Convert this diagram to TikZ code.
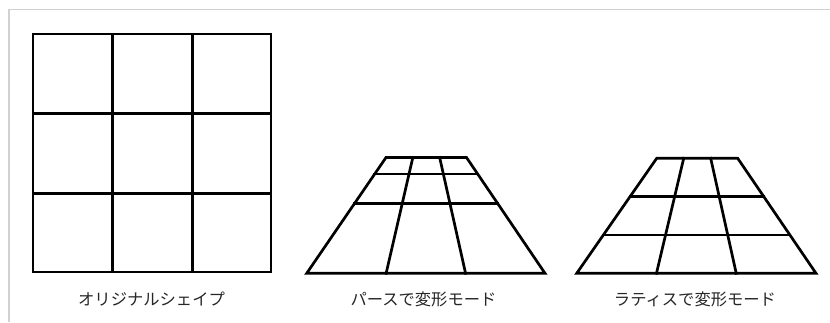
\documentclass[tikz,border=0pt]{standalone}
\usepackage{fontspec}
\usetikzlibrary{calc}
\newfontfamily\jpfont{Noto Sans CJK JP}
\tikzset{
  gridline/.style={line width=2.7pt, line cap=rect, line join=miter, black},
  frameline/.style={line width=1.4pt, color=black!18},
  caption/.style={font=\jpfont\fontsize{16.3}{19}\selectfont, text=black!85, inner sep=0pt, anchor=center}
}
\begin{document}
\begin{tikzpicture}[x=1pt,y=-1pt]
\useasboundingbox (0,0) rectangle (830,322);
% frame
\draw[frameline] (9,322) -- (9,9.3) -- (830,9.3);

% original square
\coordinate (s1) at (33,34);
\coordinate (s2) at (271,272);
\draw[gridline] (s1) rectangle (s2);
\draw[gridline] (112.3,34) -- (112.3,272);
\draw[gridline] (192.3,34) -- (192.3,272);
\draw[gridline] (33,113.3) -- (271,113.3);
\draw[gridline] (33,193.3) -- (271,193.3);

% perspective trapezoid
\coordinate (pTL) at (386,157.5);
\coordinate (pTR) at (466.5,157.5);
\coordinate (pBR) at (545,273.3);
\coordinate (pBL) at (306.7,273.3);
\draw[gridline] (pTL) -- (pTR) -- (pBR) -- (pBL) -- cycle;
\draw[gridline] ($(pTL)!1/3!(pTR)$) -- ($(pBL)!1/3!(pBR)$);
\draw[gridline] ($(pTL)!2/3!(pTR)$) -- ($(pBL)!2/3!(pBR)$);
\draw[gridline] ($(pTL)!0.1414!(pBL)$) -- ($(pTR)!0.1414!(pBR)$);
\draw[gridline] ($(pTL)!0.3966!(pBL)$) -- ($(pTR)!0.3966!(pBR)$);

% lattice trapezoid
\coordinate (lTL) at (656.7,158.3);
\coordinate (lTR) at (737.7,158.3);
\coordinate (lBR) at (816,273.3);
\coordinate (lBL) at (576.7,273.3);
\draw[gridline] (lTL) -- (lTR) -- (lBR) -- (lBL) -- cycle;
\draw[gridline] ($(lTL)!1/3!(lTR)$) -- ($(lBL)!1/3!(lBR)$);
\draw[gridline] ($(lTL)!2/3!(lTR)$) -- ($(lBL)!2/3!(lBR)$);
\draw[gridline] ($(lTL)!1/3!(lBL)$) -- ($(lTR)!1/3!(lBR)$);
\draw[gridline] ($(lTL)!2/3!(lBL)$) -- ($(lTR)!2/3!(lBR)$);

% captions
\node[caption] (c1) at (151.5,299.5) {オリジナルシェイプ};
\node[caption] (c2) at (423.5,299.5) {パースで変形モード};
\node[caption] (c3) at (695,299.5) {ラティスで変形モード};
\end{tikzpicture}
\end{document}
